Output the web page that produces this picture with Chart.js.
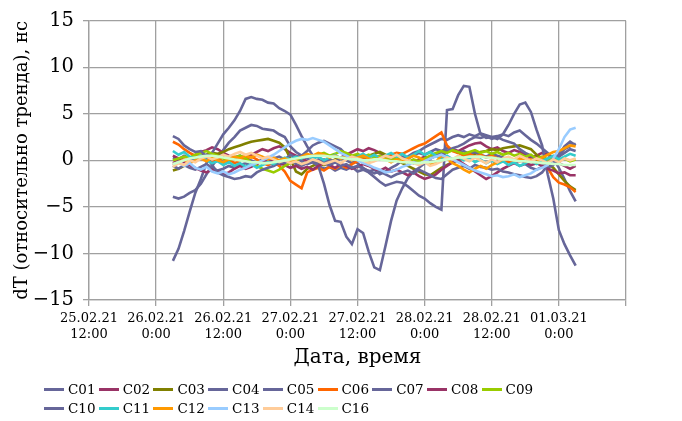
<!DOCTYPE html>
<html>
<head>
<meta charset="utf-8">
<script src="https://cdn.jsdelivr.net/npm/chart.js@4/dist/chart.umd.min.js"></script>
<style>
  html, body { margin: 0; padding: 0; background: #fff; }
  #wrap { position: relative; width: 682px; height: 421px; overflow: hidden; }
  #legend { position: absolute; left: 0; top: 0; width: 682px; height: 421px; pointer-events: none;
            font-family: "DejaVu Serif", serif; font-size: 13.5px; color: #000; }
  .li { position: absolute; height: 18px; white-space: nowrap; }
  .li .sw { position: absolute; left: 0; top: 8px; width: 20px; height: 3px; }
  .li .tx { position: absolute; left: 24px; top: 0; line-height: 18px; }
</style>
</head>
<body>
<div id="wrap">
  <canvas id="c" width="682" height="421"></canvas>
  <div id="legend"></div>
</div>
<script>
// Hours counted from 25.02.21 12:00
const hours = [15,16,17,18,19,20,21,22,23,24,25,26,
  27,28,29,30,31,32,33,34,35,36,37,38,
  39,40,41,42,43,44,45,46,47,48,49,50,
  51,52,53,54,55,56,57,58,59,60,61,62,
  63,64,65,66,67,68,69,70,71,72,73,74,
  75,76,77,78,79,80,81,82,83,84,85,86,87];

const xTickLabels = [['25.02.21','12:00'], ['26.02.21','0:00'], ['26.02.21','12:00'], ['27.02.21','0:00'],
  ['27.02.21','12:00'], ['28.02.21','0:00'], ['28.02.21','12:00'], ['01.03.21','0:00'], ''];
const yTicks = [-15, -10, -5, 0, 5, 10, 15];

const seriesNames = ['C01','C02','C03','C04','C05','C06','C07','C08','C09','C10','C11','C12','C13','C14','C16'];

const C01 = [-3.9,-4.1,-3.9,-3.5,-3.2,-2.5,-1.5,-0.6,0.2,1.1,1.9,2.5,
  3.2,3.5,3.8,3.7,3.4,3.3,3.2,2.8,2.5,1.5,0.9,0.5,
  1.0,1.6,1.9,2.1,1.8,1.5,1.2,0.6,0.2,-0.3,-0.8,-1.2,
  -1.0,-1.5,-1.2,-0.8,-0.5,0.0,0.4,0.8,1.0,1.4,1.7,2.0,
  2.3,2.2,2.5,2.7,2.5,2.8,2.6,2.9,2.7,2.5,2.6,2.8,
  2.6,3.0,3.2,2.7,2.2,1.8,1.3,0.8,0.2,-0.8,-2.0,-3.3,-4.4];
const C02 = [-0.3,0.0,0.4,0.2,0.6,0.9,1.1,1.4,1.2,0.8,0.5,0.3,
  0.0,0.2,0.6,0.9,1.2,1.0,1.3,1.5,1.2,0.8,0.5,0.2,
  -0.1,0.2,-0.2,0.1,-0.4,-0.2,0.3,0.6,0.9,1.2,1.0,1.3,
  1.1,0.8,0.4,0.2,0.5,0.3,0.0,-0.3,0.1,0.4,0.2,0.5,
  0.7,0.9,1.2,1.0,1.3,1.6,1.8,1.9,1.5,1.2,1.4,1.0,
  0.8,1.1,0.9,0.6,0.3,0.5,0.8,0.6,0.2,-0.3,-0.6,-0.9,-0.6];
const C03 = [-1.1,-0.9,-0.6,-0.2,0.2,0.5,0.6,0.8,0.7,0.9,1.2,1.4,
  1.6,1.8,2.0,2.1,2.2,2.3,2.1,1.9,1.4,0.2,-1.2,-1.5,
  -0.9,-0.6,-0.3,-0.5,-0.2,0.1,0.3,0.1,0.4,0.6,0.3,0.5,
  0.7,0.9,0.6,0.4,0.1,-0.3,-0.6,-0.9,-1.2,-1.5,-1.6,-1.2,
  -0.8,-0.5,-0.2,0.0,0.3,0.5,0.7,0.9,1.0,1.2,1.1,1.3,
  1.4,1.5,1.6,1.4,1.2,0.6,0.2,-0.3,-0.8,-1.5,-2.2,-2.8,-3.2];
const C04 = [0.3,0.1,0.5,0.2,-0.1,0.3,0.6,0.4,0.1,-0.2,0.0,0.3,
  0.5,0.2,0.0,-0.3,-0.1,0.2,-0.2,-0.5,-0.3,0.0,-0.4,-0.6,
  -0.3,-0.1,-0.5,-0.2,0.1,-0.2,0.2,0.0,-0.3,0.1,0.3,0.0,
  0.2,0.4,0.1,0.3,0.6,0.4,0.2,0.5,0.8,0.6,0.9,1.2,
  1.0,1.3,1.1,0.8,1.0,0.7,0.9,0.6,0.4,0.7,0.5,0.3,
  0.0,-0.3,-0.6,-0.4,-0.8,-1.0,-0.7,-0.4,0.0,0.4,0.8,1.2,1.0];
const C05 = [-0.6,-0.9,-0.5,-0.8,-1.0,-0.7,-0.4,-0.8,-1.1,-0.9,-0.6,-0.8,
  -0.5,-0.3,-0.6,-0.2,0.1,-0.3,0.2,0.4,0.1,0.6,0.3,-0.1,
  -0.4,-0.2,-0.6,-0.9,-0.7,-1.1,-0.8,-1.0,-0.7,-1.2,-1.0,-1.3,
  -1.8,-2.3,-2.7,-2.5,-2.3,-2.4,-2.8,-3.3,-3.8,-4.1,-4.6,-5.0,
  -5.3,5.4,5.5,7.0,8.0,7.9,5.0,2.8,2.4,2.5,2.3,2.8,
  3.8,5.0,6.0,6.2,5.2,3.3,1.6,-1.5,-4.1,-7.5,-9.0,-10.2,-11.3];
const C06 = [2.0,1.7,1.2,0.8,0.5,0.3,0.1,-0.2,0.0,0.3,0.1,-0.3,
  -0.1,0.2,0.4,0.1,-0.3,-0.5,-0.2,-0.6,-1.2,-2.2,-2.6,-3.0,
  -1.3,-1.0,-0.8,-1.1,-0.7,-0.9,-0.5,-0.8,-0.4,-0.1,0.2,-0.2,
  0.1,0.4,0.2,0.6,0.8,0.7,1.0,1.3,1.6,1.8,2.2,2.6,
  3.0,1.6,1.0,0.8,0.5,0.7,0.4,0.6,0.3,0.5,0.2,0.0,
  -0.2,0.1,-0.1,0.2,0.0,-0.3,-0.5,-0.8,-1.8,-2.4,-2.6,-2.9,-3.4];
const C07 = [-10.8,-9.5,-7.6,-5.5,-3.5,-2.0,-0.3,0.8,1.8,2.8,3.5,4.3,
  5.3,6.6,6.8,6.6,6.5,6.2,6.1,5.6,5.3,4.9,3.8,2.6,
  1.5,0.5,-0.6,-2.5,-4.8,-6.5,-6.6,-8.2,-9.0,-7.4,-7.8,-9.8,
  -11.5,-11.8,-9.2,-6.5,-4.3,-3.0,-1.9,-1.2,-0.8,-0.3,0.2,0.5,
  0.8,1.0,1.3,1.5,1.8,2.2,2.5,2.4,2.6,2.3,2.5,2.2,
  2.0,1.8,1.2,0.8,0.5,0.0,-0.5,-0.8,-0.5,0.5,1.2,1.5,1.8];
const C08 = [0.5,0.2,-0.2,-0.5,-0.8,-1.1,-1.3,-1.0,-1.2,-1.5,-1.3,-0.9,
  -0.6,-0.9,-0.7,-0.4,-0.1,0.2,0.0,-0.3,-0.5,-0.8,-0.6,-0.9,
  -0.7,-1.0,-0.6,-0.3,-0.5,-0.8,-0.4,-0.6,-0.9,-0.7,-0.4,-0.6,
  -0.9,-1.1,-0.8,-1.2,-1.0,-1.3,-1.6,-1.3,-1.7,-2.0,-1.8,-1.5,
  -1.0,-0.6,-0.2,0.0,-0.4,-0.8,-1.2,-1.6,-2.0,-1.7,-1.3,-0.9,
  -0.6,-0.3,0.0,-0.2,-0.5,-0.3,-0.6,-0.9,-1.1,-1.4,-1.3,-1.6,-1.6];
const C09 = [0.0,0.2,0.4,0.3,0.6,0.8,1.0,0.7,0.5,0.2,0.0,0.3,
  0.5,0.2,-0.2,-0.6,-0.9,-1.1,-1.3,-1.0,-0.6,-0.3,0.0,0.3,
  0.5,0.3,0.6,0.8,0.5,0.7,1.0,0.8,0.5,0.7,0.4,0.6,
  0.3,0.5,0.2,0.0,0.3,0.1,-0.2,0.1,-0.1,0.2,0.5,0.8,
  1.0,0.8,1.1,0.9,0.7,0.9,1.1,0.8,1.0,0.7,0.9,0.6,
  0.8,0.5,0.7,0.4,0.6,0.2,0.4,0.1,0.3,0.0,0.2,-0.1,0.1];
const C10 = [2.6,2.3,1.6,1.2,0.9,1.0,0.4,-0.5,-1.3,-1.6,-1.8,-2.0,
  -1.9,-1.7,-1.8,-1.3,-1.0,-0.8,-0.6,-0.3,-0.2,0.0,0.3,0.5,
  0.2,-0.2,0.1,-0.3,-0.5,-0.2,-0.6,-0.4,-0.8,-0.6,-0.9,-1.1,
  -1.4,-1.2,-1.5,-1.8,-1.5,-1.3,-1.1,-1.4,-1.0,-1.3,-1.6,-1.9,
  -2.0,-1.5,-1.0,-0.8,-0.6,-0.9,-0.5,-0.7,-0.8,-1.0,-0.9,-1.2,
  -1.3,-1.5,-1.6,-1.8,-1.9,-1.7,-1.3,-0.5,0.2,0.6,1.5,2.0,1.6];
const C11 = [1.0,0.6,0.9,0.4,0.2,0.5,0.0,-0.3,-0.1,-0.5,-0.2,-0.6,
  -0.3,-0.7,-0.4,-0.8,-0.5,-0.2,-0.4,0.0,0.3,0.1,0.4,0.2,
  0.5,0.2,0.4,0.0,0.3,0.6,0.2,0.5,0.1,0.4,0.7,0.3,
  0.6,0.2,0.5,0.8,0.4,0.7,0.3,0.6,1.0,0.6,0.9,0.5,
  0.2,0.5,0.1,0.4,0.0,0.3,-0.2,0.1,-0.3,0.0,-0.4,-0.1,
  -0.5,-0.2,-0.6,-0.3,0.0,-0.4,-0.1,0.2,0.5,0.1,0.4,0.7,0.5];
const C12 = [-0.5,-0.2,0.1,-0.3,0.0,0.2,-0.1,0.3,0.0,-0.2,0.1,0.4,
  0.2,0.5,0.3,0.6,0.4,0.1,0.3,0.0,0.2,-0.1,0.1,0.4,
  0.7,0.5,0.8,0.6,0.3,0.5,0.2,0.4,0.0,0.3,0.5,0.2,
  0.0,0.3,0.1,-0.2,0.1,-0.1,0.2,0.5,0.3,0.0,-0.4,-0.2,
  0.5,0.2,-0.3,-0.6,-1.0,-1.3,-0.9,-0.6,-0.9,-0.5,-0.2,0.1,
  0.3,0.0,0.2,-0.1,0.1,-0.2,0.3,0.6,0.9,1.0,1.3,1.6,1.5];
const C13 = [-0.5,-0.2,-0.6,-0.3,-0.8,-1.0,-0.7,-1.2,-1.4,-1.2,-1.5,-1.3,
  -1.0,-0.8,-0.5,-0.3,0.0,0.3,0.6,1.0,1.4,1.8,2.1,2.3,
  2.2,2.4,2.2,2.0,1.6,1.2,0.8,0.5,0.2,0.0,-0.3,-0.5,
  -0.8,-1.0,-1.3,-1.2,-1.0,-0.7,-0.5,-0.2,-0.4,-0.1,0.2,0.4,
  0.6,0.3,0.1,-0.2,-0.5,-0.8,-1.1,-1.3,-1.5,-1.7,-1.6,-1.8,
  -1.7,-1.5,-1.8,-1.6,-1.4,-1.0,-0.8,-0.5,0.2,1.2,2.5,3.3,3.5];
const C14 = [-0.7,-0.3,-0.5,0.0,-0.2,0.2,0.4,0.1,0.3,0.6,0.4,0.7,
  0.9,0.6,0.8,0.5,0.2,0.4,0.1,-0.2,0.0,-0.3,-0.1,-0.4,
  -0.2,0.1,-0.1,-0.4,-0.2,0.0,-0.3,0.1,0.4,0.2,0.0,-0.3,
  -0.1,0.2,0.5,0.3,0.6,0.2,0.0,-0.3,-0.5,-0.2,-0.6,-0.4,
  -0.1,0.3,0.1,0.5,0.2,-0.1,0.3,0.0,-0.3,0.1,-0.2,0.2,
  0.4,0.1,0.5,0.2,-0.1,0.2,0.0,-0.3,0.1,-0.2,0.2,0.0,0.2];
const C16 = [-0.4,-0.2,0.0,0.2,0.3,0.4,0.5,0.5,0.4,0.3,0.2,0.1,
  0.0,-0.1,-0.2,-0.2,-0.3,-0.3,-0.2,-0.1,0.0,0.1,0.2,0.3,
  0.4,0.5,0.5,0.5,0.4,0.4,0.3,0.2,0.1,0.1,0.0,0.0,
  0.1,0.1,0.0,-0.1,-0.1,-0.2,-0.2,-0.3,-0.3,-0.2,-0.2,-0.1,
  0.0,0.1,0.2,0.3,0.3,0.4,0.4,0.4,0.3,0.3,0.2,0.1,
  0.1,0.0,-0.1,-0.1,-0.2,-0.2,-0.3,-0.3,-0.4,-0.4,-0.5,-0.5,-0.5];

const seriesValues = [C01,C02,C03,C04,C05,C06,C07,C08,C09,C10,C11,C12,C13,C14,C16];
const seriesColors = ['#666699','#993366','#808000','#666699','#666699','#FF6600','#666699','#993366',
  '#99CC00','#666699','#33CCCC','#FF9900','#99CCFF','#FFCC99','#CCFFCC'];

const FONT = '"DejaVu Serif", serif';
const GRID = '#a0a0a0';

const datasets = seriesNames.map((name, i) => ({
  label: name,
  data: hours.map((h, k) => ({ x: h, y: seriesValues[i][k] })),
  borderColor: seriesColors[i],
  backgroundColor: seriesColors[i],
  borderWidth: 2.6,
  pointRadius: 0,
  tension: 0,
  fill: false,
  order: seriesNames.length - i
}));

new Chart(document.getElementById('c'), {
  type: 'line',
  data: { datasets },
  options: {
    responsive: false,
    animation: false,
    events: [],
    layout: { padding: { left: 0, right: 56, top: 16, bottom: 51 } },
    plugins: { legend: { display: false }, tooltip: { enabled: false } },
    scales: {
      x: {
        type: 'linear', min: 0, max: 96,
        afterBuildTicks: (s) => { s.ticks = xTickLabels.map((_, i) => ({ value: i * 12 })); },
        afterFit: (s) => { s.height = 70; },
        ticks: {
          autoSkip: false, maxRotation: 0, minRotation: 0, padding: 4,
          color: '#000', font: { family: FONT, size: 13, lineHeight: 1.25 },
          callback: (v) => xTickLabels[Math.round(v / 12)]
        },
        grid: { color: GRID, lineWidth: 1.3, tickLength: 6, drawTicks: true },
        border: { color: GRID, width: 1.3 },
        title: { display: true, text: 'Дата, время', color: '#000', font: { family: FONT, size: 20 }, padding: 0 }
      },
      y: {
        min: -15, max: 15,
        afterBuildTicks: (s) => { s.ticks = yTicks.map(v => ({ value: v })); },
        afterFit: (s) => { s.width = 89; },
        ticks: {
          padding: 9, color: '#000', font: { family: FONT, size: 19.5 },
          callback: (v) => (v < 0 ? '\u2212' + Math.abs(v) : String(v))
        },
        grid: { color: GRID, lineWidth: 1.3, tickLength: 6 },
        border: { color: GRID, width: 1.3 },
        title: { display: true, text: 'dT (относительно тренда), нс', color: '#000',
                 font: { family: FONT, size: 18 }, padding: { top: 12, bottom: 0 } }
      }
    }
  }
});

// HTML legend (two rows, left aligned)
const legend = document.getElementById('legend');
const perRow = 9;
seriesNames.forEach((name, i) => {
  const row = Math.floor(i / perRow), col = i % perRow;
  const el = document.createElement('div');
  el.className = 'li';
  el.style.left = (44 + col * 54.7) + 'px';
  el.style.top = (row === 0 ? 380 : 399) + 'px';
  el.innerHTML = '<span class="sw" style="background:' + seriesColors[i] + '"></span><span class="tx">' + name + '</span>';
  legend.appendChild(el);
});
</script>
</body>
</html>
